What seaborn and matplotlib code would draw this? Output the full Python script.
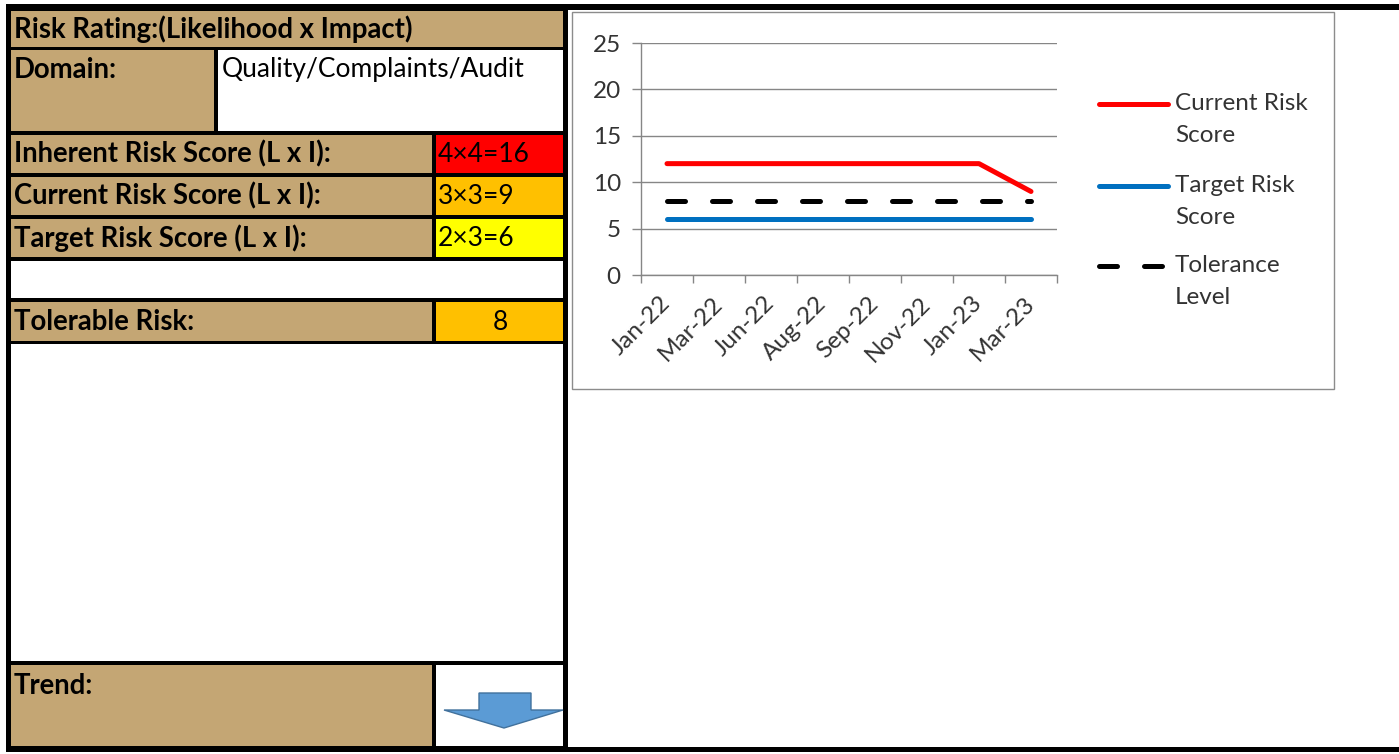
import matplotlib
matplotlib.use("Agg")
import matplotlib.pyplot as plt
import seaborn as sns
import pandas as pd
from matplotlib.patches import Rectangle, Polygon
from matplotlib.ticker import FixedLocator

# ---------------- data ----------------
months = ["Jan-22", "Mar-22", "Jun-22", "Aug-22", "Sep-22", "Nov-22", "Jan-23", "Mar-23"]
current_risk = [12, 12, 12, 12, 12, 12, 12, 9]
target_risk = [6, 6, 6, 6, 6, 6, 6, 6]
tolerance = [8, 8, 8, 8, 8, 8, 8, 8]
series_names = ["Current Risk Score", "Target Risk Score", "Tolerance Level"]
legend_labels = ["Current Risk\nScore", "Target Risk\nScore", "Tolerance\nLevel"]

header_text = "Risk Rating:(Likelihood x Impact)"
domain_label = "Domain:"
domain_value = "Quality/Complaints/Audit"
score_labels = ["Inherent Risk Score (L x I):", "Current Risk Score (L x I):", "Target Risk Score (L x I):"]
score_values = ["4×4=16", "3×3=9", "2×3=6"]
tolerable_label = "Tolerable Risk:"
tolerable_value = "8"
trend_label = "Trend:"

# ---------------- style ----------------
sns.set_theme(style="white")
plt.rcParams['font.family'] = ['Lato', 'DejaVu Sans']

W, H = 1399, 754
fig = plt.figure(figsize=(W / 100, H / 100), dpi=100)
bg = fig.add_axes([0, 0, 1, 1])
bg.set_xlim(0, W)
bg.set_ylim(H, 0)
bg.axis('off')

TAN = '#C4A674'
RED = '#FF0000'
ORANGE = '#FFC000'
YELLOW = '#FFFF00'


def cell(x0, y0, x1, y1, fc):
    bg.add_patch(Rectangle((x0, y0), x1 - x0, y1 - y0, facecolor=fc, edgecolor='none'))


# black frame / borders
cell(6, 4, 568, 752, 'black')
cell(6, 4, W, 10, 'black')
cell(6, 747, W, 752, 'black')

cell(11, 11, 563, 47, TAN)
cell(11, 50, 214, 131, TAN)
cell(218, 50, 563, 131, 'white')
score_colors = [RED, ORANGE, YELLOW]
row_tops = [135, 177, 219]
for top, c in zip(row_tops, score_colors):
    cell(11, top, 432, top + 38, TAN)
    cell(436, top, 563, top + 38, c)
cell(11, 261, 563, 298, 'white')
cell(11, 302, 432, 341, TAN)
cell(436, 302, 563, 341, ORANGE)
cell(11, 344, 563, 661, 'white')
cell(11, 665, 432, 746, TAN)
cell(436, 665, 563, 746, 'white')

FS = 19
BFS = 19.8
TC = 'black'
bg.text(14, 29, header_text, fontsize=BFS, fontweight='bold', va='center', ha='left', color=TC)
bg.text(14, 70, domain_label, fontsize=BFS, fontweight='bold', va='center', ha='left', color=TC)
bg.text(222, 70, domain_value, fontsize=FS, va='center', ha='left', color=TC)
for top, lab, val in zip(row_tops, score_labels, score_values):
    bg.text(14, top + 19, lab, fontsize=BFS, fontweight='bold', va='center', ha='left', color=TC)
    bg.text(438, top + 19, val, fontsize=FS, va='center', ha='left', color=TC)
bg.text(14, 322, tolerable_label, fontsize=BFS, fontweight='bold', va='center', ha='left', color=TC)
bg.text(500, 322, tolerable_value, fontsize=FS, va='center', ha='center', color=TC)
bg.text(14, 686, trend_label, fontsize=BFS, fontweight='bold', va='center', ha='left', color=TC)

# down arrow
arrow = Polygon([(479, 693), (531, 693), (531, 710), (563, 710), (504, 728),
                 (444, 710), (479, 710)], closed=True, facecolor='#5B9BD5',
                edgecolor='#41719C', lw=1)
bg.add_patch(arrow)

# chart box
bg.add_patch(Rectangle((572, 12), 1334 - 572, 389 - 12, facecolor='white',
                       edgecolor='#8C8C8C', lw=1))

# ---------------- chart ----------------
df = pd.DataFrame({
    'month': months * 3,
    'value': current_risk + target_risk + tolerance,
    'series': [series_names[0]] * len(months) + [series_names[1]] * len(months)
              + [series_names[2]] * len(months),
})
palette = {series_names[0]: '#FF0000', series_names[1]: '#0070C0', series_names[2]: '#000000'}
dashes = {series_names[0]: '', series_names[1]: '', series_names[2]: (3.6, 5.4)}

ax = fig.add_axes([641 / W, 1 - 275 / H, 416 / W, 232 / H])
ax.set_facecolor('none')
sns.lineplot(data=df, x='month', y='value', hue='series', style='series',
             palette=palette, dashes=dashes, linewidth=3.6, legend=False,
             sort=False, ax=ax, zorder=3)
for ln in ax.lines:
    ln.set_solid_capstyle('round')
    ln.set_dash_capstyle('round')
    ln.set_solid_joinstyle('round')

GRAY = '#868686'
LFS = 17.5
LC = '#333333'
ax.set_xlim(-0.5, len(months) - 0.5)
ax.set_ylim(0, 25)
ax.set_yticks(range(0, 26, 5))
ax.set_xticks(range(len(months)))
ax.set_xticklabels(months)
ax.xaxis.set_minor_locator(FixedLocator([i - 0.5 for i in range(len(months) + 1)]))
ax.tick_params(axis='x', which='major', length=0, pad=18, labelsize=LFS, labelcolor=LC)
ax.tick_params(axis='x', which='minor', length=6, width=1, color=GRAY, direction='out', bottom=True)
ax.tick_params(axis='y', which='major', length=6.5, width=1, color=GRAY, direction='out',
               left=True, labelsize=LFS, labelcolor=LC, pad=8)
for lab in ax.get_xticklabels():
    lab.set_rotation(45)
    lab.set_ha('right')
    lab.set_va('center')
    lab.set_rotation_mode('anchor')
ax.set_xlabel('')
ax.set_ylabel('')
ax.yaxis.grid(True, color=GRAY, lw=1)
ax.set_axisbelow(True)
for s in ['top', 'right']:
    ax.spines[s].set_visible(False)
for s in ['left', 'bottom']:
    ax.spines[s].set_color(GRAY)
    ax.spines[s].set_linewidth(1)

# ---------------- legend (Excel-style, first text line aligned with handle) ----------------
leg_y = [104, 186, 266]
for y, lab, name in zip(leg_y, legend_labels, series_names):
    ls = '-' if name != series_names[2] else (0, (3.6, 5.4))
    bg.plot([1099, 1168], [y, y], color=palette[name], lw=3.6, solid_capstyle='round',
            dash_capstyle='round', linestyle=ls)
    for k, part in enumerate(lab.split('\n')):
        bg.text(1175, y + 32 * k, part, fontsize=LFS, va='center', ha='left', color=LC)

fig.savefig('out.png', dpi=100)
